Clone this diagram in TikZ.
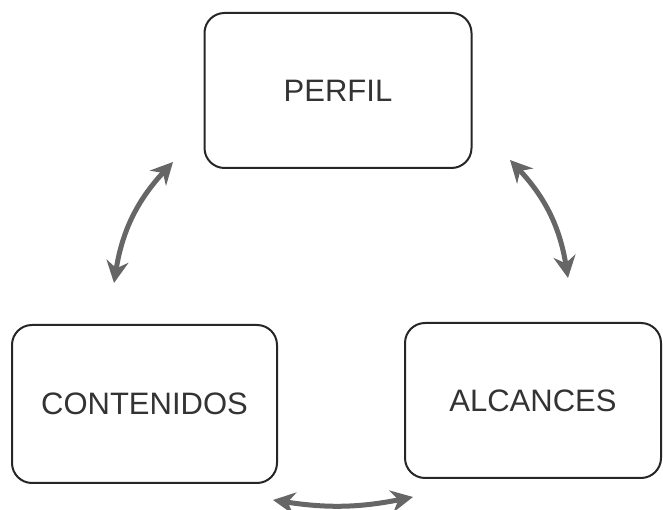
\documentclass[tikz,border=0pt]{standalone}
\usepackage{fontspec}
\setmainfont{Liberation Sans}
\usetikzlibrary{arrows.meta}
\begin{document}
\begin{tikzpicture}[x=1pt,y=1pt,
  caja/.style={draw=black!85,line width=2pt,rounded corners=20pt,font=\fontsize{31}{36}\selectfont,text=black!80},
  flecha/.style={black!60,line width=5pt,{Stealth[length=22pt,width=22pt]}-{Stealth[length=22pt,width=22pt]}}]
\useasboundingbox(0,0)rectangle(663,510);
\node[caja,minimum width=267pt,minimum height=155pt](P)at(338,419.5){PERFIL};
\node[caja,minimum width=265pt,minimum height=158pt](C)at(144.5,106){CONTENIDOS};
\node[caja,minimum width=256pt,minimum height=155pt](A)at(533,109.5){ALCANCES};
\coordinate(p1)at(173,348);\coordinate(c1)at(114,227);
\coordinate(p2)at(510,350);\coordinate(a1)at(568,232);
\coordinate(c2)at(273,10);\coordinate(a2)at(413,13);
\draw[flecha](p1)to[bend right=17](c1);
\draw[flecha](p2)to[bend left=17](a1);
\draw[flecha](c2)to[bend right=10](a2);
\end{tikzpicture}
\end{document}
